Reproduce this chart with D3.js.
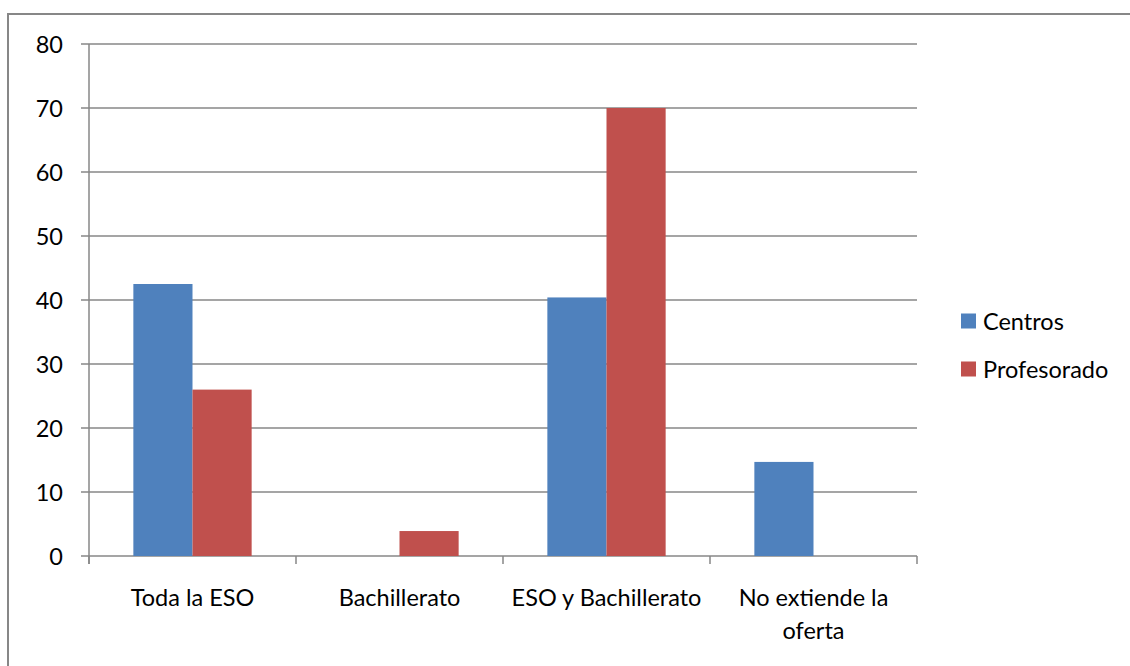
<!DOCTYPE html>
<html lang="es">
<head>
<meta charset="UTF-8">
<title>Centros y profesorado</title>
<script src="https://cdn.jsdelivr.net/npm/d3@7"></script>
<style>
    * { margin: 0; padding: 0; }
    body { background: #fff; }
    text { font-family: Lato, "Open Sans", sans-serif; fill: #000; }
</style>
</head>
<body>
<div id="chart"></div>
<script>
    const categories = ['Toda la ESO', 'Bachillerato', 'ESO y Bachillerato', 'No extiende la oferta']
    const tickLabels = [['Toda la ESO'], ['Bachillerato'], ['ESO y Bachillerato'], ['No extiende la', 'oferta']]
    const seriesNames = ['Centros', 'Profesorado']
    const centros = [42.5, 0, 40.4, 14.7]
    const profesorado = [26, 3.9, 70, 0]
    const yTicks = [0, 10, 20, 30, 40, 50, 60, 70, 80]

    const colors = ['#4F81BD', '#C0504D']
    const gridColor = '#878787'
    const fontSize = 23.5

    const width = 1130
    const height = 666
    const margin = { top: 44, right: 213, bottom: 110, left: 89 }

    const svg = d3.select('#chart')
        .append('svg')
        .attr('width', width)
        .attr('height', height)

    // outer frame
    svg.append('rect')
        .attr('x', 8)
        .attr('y', 14)
        .attr('width', width)
        .attr('height', height)
        .attr('fill', 'none')
        .attr('stroke', gridColor)
        .attr('stroke-width', 2)

    const x0 = d3.scaleBand()
        .domain(categories)
        .range([margin.left, width - margin.right])
        .padding(0)

    const x1 = d3.scaleBand()
        .domain(seriesNames)
        .range([0, x0.bandwidth()])
        .paddingInner(0)
        .paddingOuter(0.75)

    const y = d3.scaleLinear()
        .domain([0, 80])
        .range([height - margin.bottom, margin.top])

    // gridlines
    svg.append('g')
        .selectAll('line')
        .data(yTicks)
        .join('line')
        .attr('x1', margin.left - 8)
        .attr('x2', width - margin.right)
        .attr('y1', d => y(d))
        .attr('y2', d => y(d))
        .attr('stroke', gridColor)
        .attr('stroke-width', 1.5)

    // y axis labels
    svg.append('g')
        .selectAll('text')
        .data(yTicks)
        .join('text')
        .attr('x', margin.left - 26)
        .attr('y', d => y(d))
        .attr('text-anchor', 'end')
        .attr('dominant-baseline', 'central')
        .style('font-size', fontSize + 'px')
        .text(d => d)

    // bars
    const rows = categories.map((c, i) => ({ cat: c, values: [centros[i], profesorado[i]] }))
    svg.append('g')
        .selectAll('g')
        .data(rows)
        .join('g')
        .attr('transform', d => `translate(${x0(d.cat)},0)`)
        .selectAll('rect')
        .data(d => d.values.map((v, j) => ({ key: seriesNames[j], v })))
        .join('rect')
        .attr('x', d => x1(d.key))
        .attr('y', d => y(d.v))
        .attr('width', x1.bandwidth())
        .attr('height', d => y(0) - y(d.v))
        .attr('fill', (d, j) => colors[j])

    // axis lines
    svg.append('line')
        .attr('x1', margin.left).attr('x2', margin.left)
        .attr('y1', y(80)).attr('y2', y(0) + 8)
        .attr('stroke', gridColor).attr('stroke-width', 1.5)

    const boundaries = categories.map(c => x0(c)).concat([width - margin.right])
    svg.append('g')
        .selectAll('line')
        .data(boundaries)
        .join('line')
        .attr('x1', d => d).attr('x2', d => d)
        .attr('y1', y(0)).attr('y2', y(0) + 8)
        .attr('stroke', gridColor).attr('stroke-width', 1.5)

    // x labels
    svg.append('g')
        .selectAll('text')
        .data(categories)
        .join('text')
        .attr('x', d => x0(d) + x0.bandwidth() / 2)
        .attr('y', 606)
        .attr('text-anchor', 'middle')
        .style('font-size', fontSize + 'px')
        .each(function (d, i) {
            d3.select(this).selectAll('tspan')
                .data(tickLabels[i])
                .join('tspan')
                .attr('x', x0(d) + x0.bandwidth() / 2)
                .attr('dy', (t, k) => k === 0 ? 0 : 33)
                .text(t => t)
        })

    // legend
    const legend = svg.append('g')
        .attr('transform', 'translate(961, 321)')

    legend.selectAll('rect')
        .data(seriesNames)
        .join('rect')
        .attr('x', 0)
        .attr('y', (d, i) => i * 48 - 7.5)
        .attr('width', 15)
        .attr('height', 15)
        .attr('fill', (d, i) => colors[i])

    legend.selectAll('text')
        .data(seriesNames)
        .join('text')
        .attr('x', 22)
        .attr('y', (d, i) => i * 48)
        .attr('dominant-baseline', 'central')
        .style('font-size', fontSize + 'px')
        .text(d => d)
</script>
</body>
</html>
